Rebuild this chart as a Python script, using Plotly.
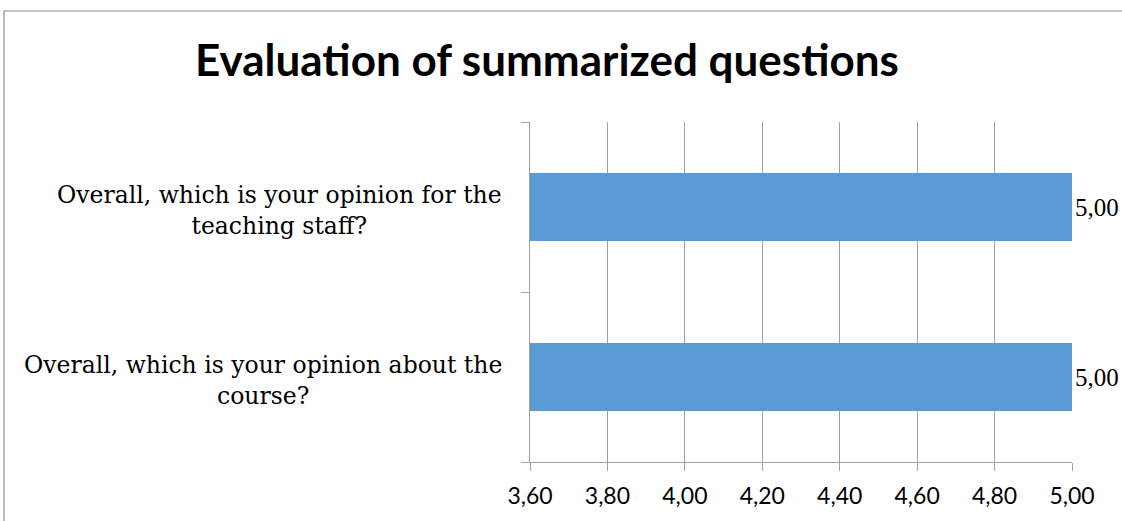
import plotly.graph_objects as go

categories = ["Overall, which is your opinion about the<br>course?",
              "Overall, which is your opinion for the<br>teaching staff?"]
values = [5.00, 5.00]
tick_vals = [3.6, 3.8, 4.0, 4.2, 4.4, 4.6, 4.8, 5.0]
tick_text = ["3,60", "3,80", "4,00", "4,20", "4,40", "4,60", "4,80", "5,00"]
title_text = "Evaluation of summarized questions"

fig = go.Figure()
fig.add_trace(go.Bar(
    y=list(range(len(categories))), x=values, orientation="h",
    marker=dict(color="#5B9BD5", line=dict(width=0)),
    text=[f"{v:.2f}".replace(".", ",") for v in values],
    textposition="outside", cliponaxis=False,
    textfont=dict(family="Liberation Serif", size=25, color="#000"),
))

for i, c in enumerate(categories):
    fig.add_annotation(x=-0.048, xref="paper", y=i, yref="y", text=c,
                       xanchor="right", yanchor="middle", align="center",
                       showarrow=False, yshift=-3,
                       font=dict(family="DejaVu Serif", size=23.5, color="#000"))

fig.add_shape(type="rect", xref="paper", yref="paper",
              x0=-0.9705, x1=1.3, y0=-0.4, y1=1.3265,
              line=dict(color="#8C8C8C", width=1.2), fillcolor="rgba(0,0,0,0)")

fig.update_layout(
    width=1122, height=521,
    margin=dict(l=530, r=50, t=122, b=59),
    paper_bgcolor="white", plot_bgcolor="white",
    showlegend=False, bargap=0.6,
    title=dict(text=title_text, x=0.4875, xanchor="center", y=0.884, yanchor="middle",
               font=dict(family="Lato", size=44, color="#000", weight="bold")),
    xaxis=dict(range=[3.6, 5.0], tickvals=tick_vals, ticktext=tick_text,
               showgrid=True, gridcolor="#A0A0A0", gridwidth=1,
               showline=True, linecolor="#A0A0A0", linewidth=1,
               ticks="outside", ticklen=8, tickcolor="#A0A0A0",
               ticklabelstandoff=5,
               tickfont=dict(family="Lato", size=23, color="#000"),
               zeroline=False, fixedrange=True),
    yaxis=dict(range=[-0.5, 1.5], tickvals=[-0.5, 0.5, 1.5], ticktext=["", "", ""],
               showgrid=False, showline=True, linecolor="#A0A0A0", linewidth=1,
               ticks="outside", ticklen=8, tickcolor="#A0A0A0",
               zeroline=False, fixedrange=True),
)

fig.write_html("out.html", config={"displayModeBar": False},
               post_script="document.body.style.margin='0';")
